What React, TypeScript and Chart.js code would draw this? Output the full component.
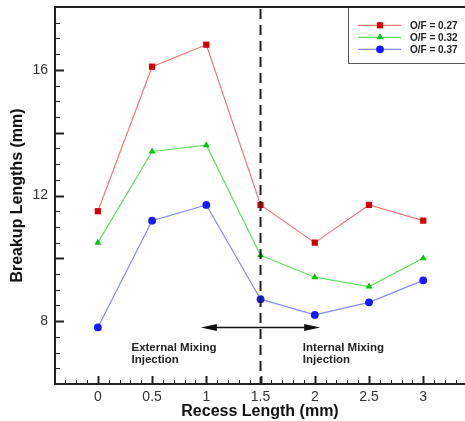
import React, { useEffect, useRef } from "react";
import { Chart, registerables } from "chart.js";

Chart.register(...registerables);

// ---- data ----
const recessLengths = [0, 0.5, 1, 1.5, 2, 2.5, 3];
const of027 = [11.5, 16.1, 16.8, 11.7, 10.5, 11.7, 11.2];
const of032 = [10.5, 13.4, 13.6, 10.1, 9.4, 9.1, 10.0];
const of037 = [7.8, 11.2, 11.7, 8.7, 8.2, 8.6, 9.3];
const seriesLabels = ["O/F = 0.27", "O/F = 0.32", "O/F = 0.37"];
const xTickValues = [0, 0.5, 1, 1.5, 2, 2.5, 3];
const yTickValues = [8, 12, 16];
const dividerX = 1.5;
const arrowRange = [0.95, 2.05];
const arrowY = 7.8;
const externalText = ["External Mixing", "Injection"];
const internalText = ["Internal Mixing", "Injection"];
const externalTextPos = [0.31, 7.06];
const internalTextPos = [1.89, 7.06];

const lineColors = ["rgb(240,120,120)", "rgb(100,220,100)", "rgb(135,135,255)"];
const markerColors = ["rgb(215,0,0)", "rgb(0,200,0)", "rgb(25,25,255)"];
const markerStyles = ["rect", "triangle", "circle"];
const markerRadii = [4.4, 4, 3.9];

function drawMarker(ctx: CanvasRenderingContext2D, style: string, r: number, x: number, y: number) {
  ctx.beginPath();
  if (style === "rect") {
    const s = r * Math.SQRT1_2;
    ctx.rect(x - s, y - s, 2 * s, 2 * s);
  } else if (style === "triangle") {
    ctx.moveTo(x, y - r);
    ctx.lineTo(x - r * 0.866, y + r * 0.5);
    ctx.lineTo(x + r * 0.866, y + r * 0.5);
    ctx.closePath();
  } else {
    ctx.arc(x, y, r, 0, Math.PI * 2);
  }
  ctx.fill();
}

const decorPlugin = {
  id: "decor",
  afterDraw(chart: any) {
    const ctx = chart.ctx as CanvasRenderingContext2D;
    const { left, top, right, bottom } = chart.chartArea;
    const xs = chart.scales.x;
    const ys = chart.scales.y;
    ctx.save();
    // frame (left, top, bottom)
    ctx.strokeStyle = "#222";
    ctx.lineWidth = 2;
    ctx.beginPath();
    ctx.moveTo(right + 5, top);
    ctx.lineTo(left, top);
    ctx.lineTo(left, bottom);
    ctx.lineTo(right + 5, bottom);
    ctx.stroke();

    // x ticks (inward)
    for (let i = -4; i <= 34; i++) {
      const v = i / 10;
      if (v < xs.min || v > xs.max) continue;
      const px = Math.round(xs.getPixelForValue(v)) + 0.5;
      const major = i % 5 === 0;
      ctx.lineWidth = major ? 2 : 1;
      ctx.beginPath();
      ctx.moveTo(px, bottom);
      ctx.lineTo(px, bottom - (major ? 8 : 4));
      ctx.stroke();
    }
    // y ticks (inward)
    for (let i = 12; i <= 36; i++) {
      const v = i / 2;
      if (v <= ys.min || v >= ys.max) continue;
      const py = Math.round(ys.getPixelForValue(v)) + 0.5;
      const major = i % 4 === 0;
      ctx.lineWidth = major ? 2 : 1;
      ctx.beginPath();
      ctx.moveTo(left, py);
      ctx.lineTo(left + (major ? 9 : 5), py);
      ctx.stroke();
    }

    // dashed divider
    const dx = xs.getPixelForValue(dividerX);
    ctx.lineWidth = 2;
    ctx.strokeStyle = "#222";
    ctx.setLineDash([10, 6]);
    ctx.beginPath();
    ctx.moveTo(dx, top + 2);
    ctx.lineTo(dx, bottom);
    ctx.stroke();
    ctx.setLineDash([]);

    // double arrow
    const ax1 = xs.getPixelForValue(arrowRange[0]);
    const ax2 = xs.getPixelForValue(arrowRange[1]);
    const ay = ys.getPixelForValue(arrowY);
    ctx.strokeStyle = "#111";
    ctx.fillStyle = "#111";
    ctx.lineWidth = 1.5;
    ctx.beginPath();
    ctx.moveTo(ax1 + 10, ay);
    ctx.lineTo(ax2 - 10, ay);
    ctx.stroke();
    ctx.beginPath();
    ctx.moveTo(ax1, ay);
    ctx.lineTo(ax1 + 16, ay - 3.5);
    ctx.lineTo(ax1 + 16, ay + 3.5);
    ctx.closePath();
    ctx.fill();
    ctx.beginPath();
    ctx.moveTo(ax2, ay);
    ctx.lineTo(ax2 - 16, ay - 3.5);
    ctx.lineTo(ax2 - 16, ay + 3.5);
    ctx.closePath();
    ctx.fill();

    // annotation text
    ctx.font = "bold 11.5px 'Liberation Sans', Arial, sans-serif";
    ctx.fillStyle = "#222";
    ctx.textAlign = "left";
    ctx.textBaseline = "alphabetic";
    const drawBlock = (lines: string[], pos: number[]) => {
      const tx = xs.getPixelForValue(pos[0]);
      const ty = ys.getPixelForValue(pos[1]);
      lines.forEach((s, k) => ctx.fillText(s, tx, ty + k * 12));
    };
    drawBlock(externalText, externalTextPos);
    drawBlock(internalText, internalTextPos);

    // legend box
    const lx = 348;
    const lt = top;
    ctx.fillStyle = "#fff";
    ctx.fillRect(lx, lt + 1, right - lx + 5, 56);
    ctx.strokeStyle = "#555";
    ctx.lineWidth = 1;
    ctx.strokeRect(lx + 0.5, lt + 0.5, right - lx + 10, 56);
    ctx.strokeStyle = "#222";
    ctx.lineWidth = 2;
    ctx.beginPath();
    ctx.moveTo(lx, top);
    ctx.lineTo(right + 5, top);
    ctx.stroke();
    ctx.font = "bold 10px 'Liberation Sans', Arial, sans-serif";
    ctx.textBaseline = "middle";
    const rows = [top + 18.3, top + 30.3, top + 42.3];
    chart.data.datasets.forEach((ds: any, i: number) => {
      const ry = rows[i];
      ctx.strokeStyle = ds.borderColor;
      ctx.lineWidth = 1.2;
      ctx.beginPath();
      ctx.moveTo(358, ry);
      ctx.lineTo(401, ry);
      ctx.stroke();
      ctx.fillStyle = ds.pointBackgroundColor;
      drawMarker(ctx, ds.pointStyle, ds.pointRadius, 380, ry);
      ctx.fillStyle = "#222";
      ctx.fillText(ds.label, 410, ry + 0.5);
    });
    ctx.restore();
  },
};

export default function App() {
  const ref = useRef<HTMLCanvasElement>(null);
  useEffect(() => {
    document.body.style.margin = "0";
    const series = [of027, of032, of037];
    const chart = new Chart(ref.current!, {
      type: "line",
      data: {
        datasets: series.map((vals, i) => ({
          label: seriesLabels[i],
          data: recessLengths.map((x, k) => ({ x, y: vals[k] })),
          borderColor: lineColors[i],
          borderWidth: 1.2,
          pointBackgroundColor: markerColors[i],
          pointBorderColor: markerColors[i],
          pointBorderWidth: 0,
          pointStyle: markerStyles[i] as any,
          pointRadius: markerRadii[i],
          tension: 0,
          fill: false,
        })),
      },
      options: {
        animation: false,
        responsive: false,
        events: [],
        layout: { autoPadding: false, padding: { top: 7, right: 0, left: 0, bottom: 0 } },
        plugins: { legend: { display: false }, tooltip: { enabled: false } },
        scales: {
          x: {
            type: "linear",
            min: -0.395,
            max: 3.385,
            grid: { display: false, drawTicks: false },
            border: { display: false },
            afterBuildTicks: (s: any) => {
              s.ticks = xTickValues.map((v) => ({ value: v }));
            },
            afterFit: (s: any) => {
              s.height = 37;
              s.paddingLeft = 0;
              s.paddingRight = 0;
            },
            ticks: {
              padding: 5,
              color: "#333",
              maxRotation: 0,
              autoSkip: false,
              font: { family: "'Liberation Sans', Arial, sans-serif", size: 14 },
              callback: (v: any) => String(v),
            },
            title: {
              display: true,
              text: "Recess Length (mm)",
              color: "#111",
              padding: { top: 1, bottom: 0 },
              font: { family: "'Liberation Sans', Arial, sans-serif", size: 16, weight: "bold" },
            },
          },
          y: {
            type: "linear",
            min: 6,
            max: 18,
            grid: { display: false, drawTicks: false },
            border: { display: false },
            afterBuildTicks: (s: any) => {
              s.ticks = yTickValues.map((v) => ({ value: v }));
            },
            afterFit: (s: any) => {
              s.width = 55;
              s.paddingTop = 0;
              s.paddingBottom = 0;
            },
            ticks: {
              padding: 7,
              color: "#333",
              autoSkip: false,
              font: { family: "'Liberation Sans', Arial, sans-serif", size: 14 },
              callback: (v: any) => String(v),
            },
            title: {
              display: true,
              text: "Breakup Lengths (mm)",
              color: "#111",
              padding: { top: 8, bottom: 0 },
              font: { family: "'Liberation Sans', Arial, sans-serif", size: 16, weight: "bold" },
            },
          },
        },
      },
      plugins: [decorPlugin],
    });
    return () => chart.destroy();
  }, []);
  return <canvas ref={ref} width={465} height={421} style={{ display: "block" }} />;
}
